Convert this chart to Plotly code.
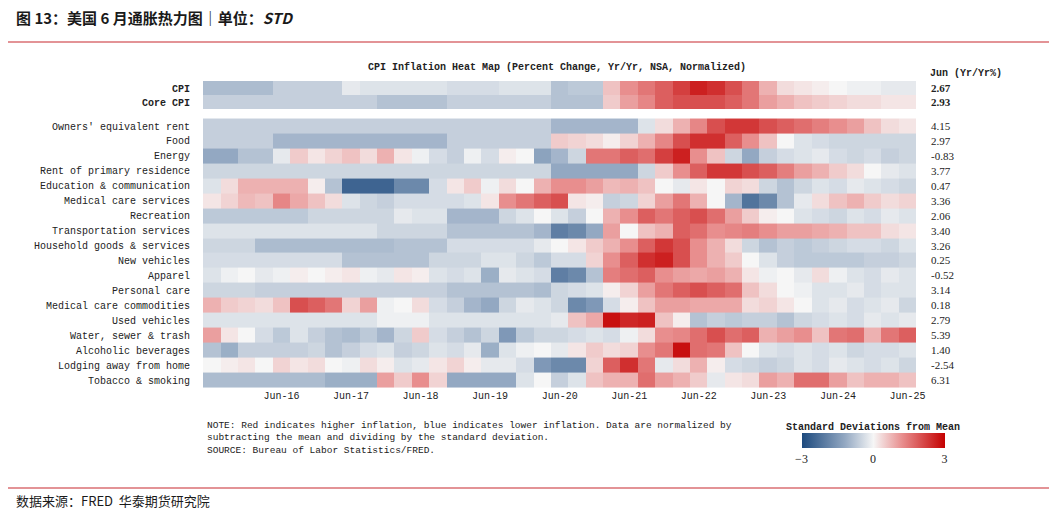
import pandas as pd
import plotly.graph_objects as go

# quarterly columns, Jun-15 .. Jun-25
quarters = pd.date_range("2015-06-01", "2025-06-01", freq="3MS").strftime("%Y-%m-%d").tolist()
tick_dates = [f"{y}-06-01" for y in range(2016, 2026)]

top_rows = ["CPI", "Core CPI"]
top_latest = ["2.67", "2.93"]
cpi = [-0.9, -0.9, -0.9, -0.9, -0.6, -0.6, -0.6, -0.6, -0.2, -0.3, -0.3, -0.3, -0.3, -0.3, -0.4, -0.4, -0.4, -0.3, -0.3, -0.3,
       -0.8, -0.7, -0.7, 0.6, 1.2, 1.5, 1.8, 2.2, 2.6, 2.4, 2.0, 1.5, 0.8, 0.3, 0.2, 0.1, 0.0, -0.1, -0.1, -0.2, -0.2]
core_cpi = [-0.6, -0.6, -0.6, -0.6, -0.6, -0.6, -0.6, -0.6, -0.6, -0.6, -0.8, -0.8, -0.8, -0.8, -0.6, -0.6, -0.6, -0.6, -0.6, -0.6,
            -0.8, -0.8, -0.8, 0.5, 1.0, 1.3, 1.8, 2.0, 2.0, 2.0, 1.8, 1.5, 1.0, 0.8, 0.6, 0.5, 0.4, 0.3, 0.3, 0.2, 0.2]

rows = ["Owners' equivalent rent", "Food", "Energy", "Rent of primary residence", "Education & communication",
        "Medical care services", "Recreation", "Transportation services", "Household goods & services",
        "New vehicles", "Apparel", "Personal care", "Medical care commodities", "Used vehicles",
        "Water, sewer & trash", "Alcoholic beverages", "Lodging away from home", "Tobacco & smoking"]
latest = ["4.15", "2.97", "-0.83", "3.77", "0.47", "3.36", "2.06", "3.40", "3.26", "0.25", "-0.52",
          "3.14", "0.18", "2.79", "5.39", "1.40", "-2.54", "6.31"]

oer = [-0.6, -0.6, -0.6, -0.6, -0.6, -0.6, -0.6, -0.6, -0.6, -0.6, -0.6, -0.6, -0.6, -0.6, -0.6, -0.6, -0.6, -0.6, -0.6, -0.6,
       -1.0, -1.0, -1.0, -1.0, -1.0, -0.3, 0.3, 0.8, 1.3, 2.0, 2.3, 2.3, 2.0, 1.8, 1.6, 1.4, 1.2, 1.0, 0.6, 0.3, 0.2]
food = [-0.6, -0.6, -0.6, -0.6, -1.0, -1.0, -1.0, -1.0, -1.0, -1.0, -1.0, -1.0, -1.0, -1.0, -0.6, -0.6, -0.6, -0.6, -0.6, -0.6,
        0.5, 0.4, 0.3, 0.1, 0.4, 0.8, 1.3, 2.0, 2.4, 2.4, 1.8, 1.2, 0.6, 0.0, -0.3, -0.4, -0.5, -0.5, -0.5, -0.5, -0.5]
energy = [-1.2, -1.2, -0.8, -0.8, -0.2, 0.5, 0.2, 0.4, 0.6, 0.3, 0.8, 0.2, -0.1, -0.4, -0.6, -0.1, -0.4, 0.1, 0.0, -1.3,
          -1.0, -0.5, 1.5, 1.5, 1.8, 1.6, 2.2, 2.6, 1.2, 0.6, -0.5, -1.2, -0.6, -0.4, -0.3, -0.2, -0.4, -0.5, -0.4, -0.6, -0.5]
rent = [-0.5, -0.5, -0.5, -0.5, -0.5, -0.5, -0.5, -0.5, -0.5, -0.5, -0.5, -0.5, -0.5, -0.5, -0.5, -0.5, -0.5, -0.5, -0.5, -0.5,
        -1.2, -1.2, -1.2, -1.2, -1.2, -0.5, 0.5, 1.2, 1.8, 2.3, 2.3, 2.0, 1.8, 1.4, 1.0, 0.8, 0.5, 0.3, 0.0, -0.2, -0.3]
education = [-0.3, 0.3, 0.8, 0.8, 0.8, 0.8, 0.1, -0.8, -2.5, -2.5, -2.5, -1.8, -1.8, -0.4, 0.2, 0.5, -0.1, 0.3, 0.0, 0.8,
             1.2, 1.2, 1.0, 0.7, 0.8, 0.6, 0.0, -0.2, 0.2, 0.0, 0.4, 0.3, -0.5, -0.8, -0.5, -0.3, -0.4, -0.2, -0.3, -0.4, -0.5]
med_services = [0.2, 0.4, 0.7, 0.6, 1.3, 0.9, 0.6, 0.3, -0.3, -0.5, -0.6, -0.4, -0.4, -0.4, -0.4, -0.3, 0.2, 1.2, 1.5, 1.8,
                 2.0, 0.2, 0.1, -0.6, -0.5, 0.4, 1.0, 1.5, 0.8, 0.0, -1.0, -2.2, -1.8, -0.8, -0.2, 0.3, 0.6, 0.8, 0.5, 0.3, 0.4]
recreation = [-0.7, -0.7, -0.7, -0.7, -0.7, -0.7, -0.5, -0.5, -0.5, -0.5, -0.5, -0.2, -0.3, -0.3, -1.0, -1.0, -1.0, -0.5, -0.3, 0.0,
              -0.3, -0.6, 0.0, 0.8, 1.2, 1.8, 1.5, 1.8, 2.0, 1.6, 1.0, 0.5, 0.1, 0.0, -0.3, -0.4, -0.5, -0.3, -0.4, -0.2, -0.3]
transport = [-0.3, -0.3, -0.3, -0.3, -0.3, -0.3, -0.3, -0.3, -0.3, -0.3, -0.5, -0.5, -0.5, -0.5, -0.8, -0.8, -0.8, -0.8, -0.8, -1.0,
             -2.0, -1.8, -1.2, 1.0, 0.0, 0.6, 0.8, 1.8, 1.6, 1.2, 1.3, 1.4, 1.2, 1.0, 1.0, 0.9, 0.8, 0.6, 0.6, 0.3, 0.2]
household = [-0.5, -0.5, -0.5, -0.9, -0.9, -0.9, -0.9, -0.9, -0.9, -0.9, -0.9, -0.8, -0.8, -0.8, -0.4, -0.4, -0.4, -0.4, -0.4, -0.2,
             0.0, 0.2, 0.5, 0.8, 1.2, 1.8, 2.3, 2.0, 1.2, 0.8, 0.3, -0.5, -0.8, -0.6, -0.7, -0.6, -0.5, -0.4, -0.4, -0.5, -0.3]
new_vehicles = [-0.4, -0.4, -0.4, -0.4, -0.4, -0.4, -0.4, -0.4, -0.8, -0.8, -0.8, -0.8, -0.8, -0.5, -0.5, -0.5, -0.3, -0.3, -0.5, -0.7,
                -0.4, -0.4, 0.4, 1.2, 1.8, 2.4, 2.6, 2.0, 1.2, 0.8, 0.5, 0.0, -0.3, -0.6, -0.7, -0.7, -0.7, -0.7, -0.6, -0.6, -0.5]
apparel = [-0.3, -0.1, 0.0, -0.2, -0.1, 0.1, 0.0, 0.1, 0.2, -0.1, -0.2, 0.2, 0.1, -0.3, -0.4, -0.3, -1.1, -0.2, -0.3, -0.4,
           -2.0, -1.8, -0.8, 1.4, 1.6, 1.8, 1.2, 1.0, 0.9, 1.0, 0.8, 0.2, -0.1, 0.0, -0.2, 0.3, -0.1, -0.3, -0.4, -0.2, -0.3]
personal_care = [-0.5, -0.5, -0.5, -0.6, -0.6, -0.6, -0.6, -0.6, -0.6, -0.6, -0.6, -0.6, -0.6, -0.6, -0.8, -0.8, -0.8, -0.8, -0.8, -0.9,
                 -0.5, -0.4, -0.3, 0.1, 0.4, 1.0, 1.5, 1.8, 2.0, 1.8, 1.6, 0.6, 0.3, 0.0, -0.1, -0.3, -0.3, -0.2, -0.4, -0.3, -0.3]
med_commod = [0.8, 0.5, 0.4, 0.3, 0.6, 2.0, 1.8, 1.5, 0.4, 1.0, -0.1, 0.0, 0.3, -0.4, -0.6, -1.0, -1.2, -0.5, -0.2, -0.3,
              -0.5, -1.8, -1.5, -0.4, 0.1, 0.6, 1.0, 1.0, 0.9, 0.9, 0.9, 0.3, 0.4, 0.2, 0.0, -0.3, -0.2, -0.4, -0.3, -0.2, -0.5]
used_vehicles = [-0.3, -0.3, -0.3, -0.3, -0.3, -0.3, -0.3, -0.3, -0.3, -0.3, -0.1, -0.1, -0.1, -0.3, -0.3, -0.3, -0.3, -0.3, -0.3, -0.3,
                 -0.2, 0.6, 0.9, 2.8, 2.5, 2.6, 0.6, 0.1, -0.8, -0.6, -0.7, -0.6, -0.6, -0.8, -0.5, -0.4, -0.3, -0.4, -0.2, -0.3, -0.2]
water = [1.0, 0.2, 0.0, -0.4, -0.7, -0.3, -0.6, -0.8, -0.9, -0.7, -1.0, -0.5, 0.5, -0.4, -0.6, -0.8, -0.5, -1.5, -0.7, -0.5,
         -0.5, -0.4, -0.3, -0.4, -0.1, 0.3, 1.2, 1.3, 1.6, 2.0, 1.6, 1.8, 0.8, 1.0, 1.2, 0.6, 1.5, 1.6, 0.8, 1.5, 1.8]
alcohol = [-0.8, -1.1, -0.6, -0.6, -0.6, -0.6, -0.5, -0.8, -0.6, -0.4, -0.3, -0.6, -0.5, -0.3, -0.4, -0.2, -1.1, -0.3, -0.1, 0.0,
           -0.2, 0.2, 0.5, 0.3, 0.4, 1.2, 1.5, 2.8, 1.6, 1.5, 0.6, 0.0, -0.3, -0.4, -0.3, -0.4, -0.3, -0.5, -0.4, -0.4, -0.3]
lodging = [0.0, 0.1, 0.2, 0.0, 0.4, 0.2, 0.3, 0.0, -0.1, 0.3, 0.1, -0.3, -0.2, 0.2, 0.4, 0.1, -0.2, -0.2, -0.4, -1.5,
           -1.8, -1.8, 0.4, 1.8, 2.4, 1.5, -0.2, 0.3, 0.8, 0.1, -0.4, -0.5, -0.6, -0.5, -0.3, -0.4, -0.2, -0.3, -0.4, -0.3, -0.5]
tobacco = [-0.9, -0.9, -0.9, -0.9, -0.9, -0.9, -0.9, -1.1, -1.1, -1.1, 1.0, 0.5, 1.2, 0.4, -1.2, -1.2, -1.2, -1.2, -0.3, 0.0,
           -0.6, -0.3, 0.6, 0.8, 0.8, 1.6, 1.0, 0.8, 0.5, -0.2, 0.2, 0.3, 1.0, 0.8, 1.6, 1.6, 1.0, 0.6, 0.8, 0.8, 0.6]

z_top = [cpi, core_cpi]
z_bot = [oer, food, energy, rent, education, med_services, recreation, transport, household, new_vehicles,
         apparel, personal_care, med_commod, used_vehicles, water, alcohol, lodging, tobacco]

W, H = 1057, 514


# the page body adds an 8px offset, so convert screen pixels to paper coords with it removed
def X(px):
    return (px - 8) / W


def Y(py):
    return 1 - (py - 8) / H


scale = [[0, "#1d4a7e"], [0.3, "#93a8c2"], [0.5, "#f6f6f6"], [0.7, "#e88e8e"], [1, "#c40000"]]
mono = "Liberation Mono"
xrange = ["2015-04-16", "2025-07-16"]

fig = go.Figure()
fig.add_trace(go.Heatmap(x=quarters, y=top_rows, z=z_top, zmin=-3, zmax=3, colorscale=scale,
                         xaxis="x", yaxis="y", showscale=False))
fig.add_trace(go.Heatmap(x=quarters, y=rows, z=z_bot, zmin=-3, zmax=3, colorscale=scale,
                         xaxis="x2", yaxis="y2",
                         colorbar=dict(orientation="h", x=X(873), xanchor="center", y=0.11 + 3 / H, yanchor="bottom",
                                       len=0.135, thickness=15, outlinewidth=0, xpad=0, ypad=0,
                                       tickvals=[-3, 0, 3], ticks="", tickprefix="<b>", ticksuffix="</b>",
                                       tickfont=dict(family="Liberation Serif", size=12, color="#222"),
                                       title=dict(text="<b>Standard Deviations from Mean</b>", side="top",
                                                  font=dict(family=mono, size=10, color="#222")))))

xdom = [X(203), X(916)]
fig.update_layout(
    width=W, height=H, margin=dict(l=0, r=0, t=0, b=0),
    paper_bgcolor="white", plot_bgcolor="white",
    xaxis=dict(domain=xdom, anchor="y", range=xrange, type="date", showticklabels=False, showgrid=False,
               zeroline=False, automargin=False),
    yaxis=dict(domain=[Y(110), Y(80)], autorange="reversed", tickfont=dict(family=mono, size=10, color="#222"),
               ticks="", showgrid=False, tickprefix="<b>", ticksuffix="</b>  ", automargin=False),
    xaxis2=dict(domain=xdom, anchor="y2", range=xrange, showgrid=False, zeroline=False, type="date",
                tickvals=tick_dates, tickformat="%b-%y", ticks="", automargin=False,
                tickfont=dict(family=mono, size=10, color="#222")),
    yaxis2=dict(domain=[Y(388), Y(118)], autorange="reversed", tickfont=dict(family=mono, size=10, color="#222"),
                ticks="", showgrid=False, ticksuffix="  ", automargin=False),
)

ann = [
    dict(x=X(14), y=Y(17), xref="paper", yref="paper", xanchor="left", yanchor="middle", showarrow=False,
         text="<b>图 13：美国 6 月通胀热力图｜单位：<i>STD</i></b>",
         font=dict(family="Noto Sans CJK SC", size=15, color="#1a1a1a")),
    dict(x=X(14), y=Y(500), xref="paper", yref="paper", xanchor="left", yanchor="middle", showarrow=False,
         text="数据来源：FRED  华泰期货研究院", font=dict(family="Noto Sans CJK SC", size=13, color="#1a1a1a")),
    dict(x=X(557), y=Y(60), xref="paper", yref="paper", showarrow=False,
         text="<b>CPI Inflation Heat Map (Percent Change, Yr/Yr, NSA, Normalized)</b>",
         font=dict(family=mono, size=10, color="#222")),
    dict(x=X(928), y=Y(73), xref="paper", yref="paper", xanchor="left", yanchor="middle", showarrow=False,
         text="<b>Jun (Yr/Yr%)</b>", font=dict(family=mono, size=10, color="#222")),
    dict(x=X(205), y=Y(418), xref="paper", yref="paper", xanchor="left", yanchor="top", showarrow=False, align="left",
         text="NOTE: Red indicates higher inflation, blue indicates lower inflation. Data are normalized by<br>"
              "subtracting the mean and dividing by the standard deviation.<br>SOURCE: Bureau of Labor Statistics/FRED.",
         font=dict(family=mono, size=9.5, color="#222")),
]
for name, v in zip(top_rows, top_latest):
    ann.append(dict(x=X(929), y=name, xref="paper", yref="y", xanchor="left", showarrow=False,
                    text=f"<b>{v}</b>", font=dict(family="Liberation Serif", size=11, color="#222")))
for name, v in zip(rows, latest):
    ann.append(dict(x=X(929), y=name, xref="paper", yref="y2", xanchor="left", showarrow=False,
                    text=v, font=dict(family="Liberation Serif", size=11, color="#222")))
fig.update_layout(annotations=ann, shapes=[
    dict(type="line", xref="paper", yref="paper", x0=X(5), x1=X(1052), y0=Y(42), y1=Y(42),
         line=dict(color="#c8282e", width=1.2)),
    dict(type="line", xref="paper", yref="paper", x0=X(5), x1=X(1052), y0=Y(488), y1=Y(488),
         line=dict(color="#c8282e", width=1.2)),
])

fig.write_html("out.html")
